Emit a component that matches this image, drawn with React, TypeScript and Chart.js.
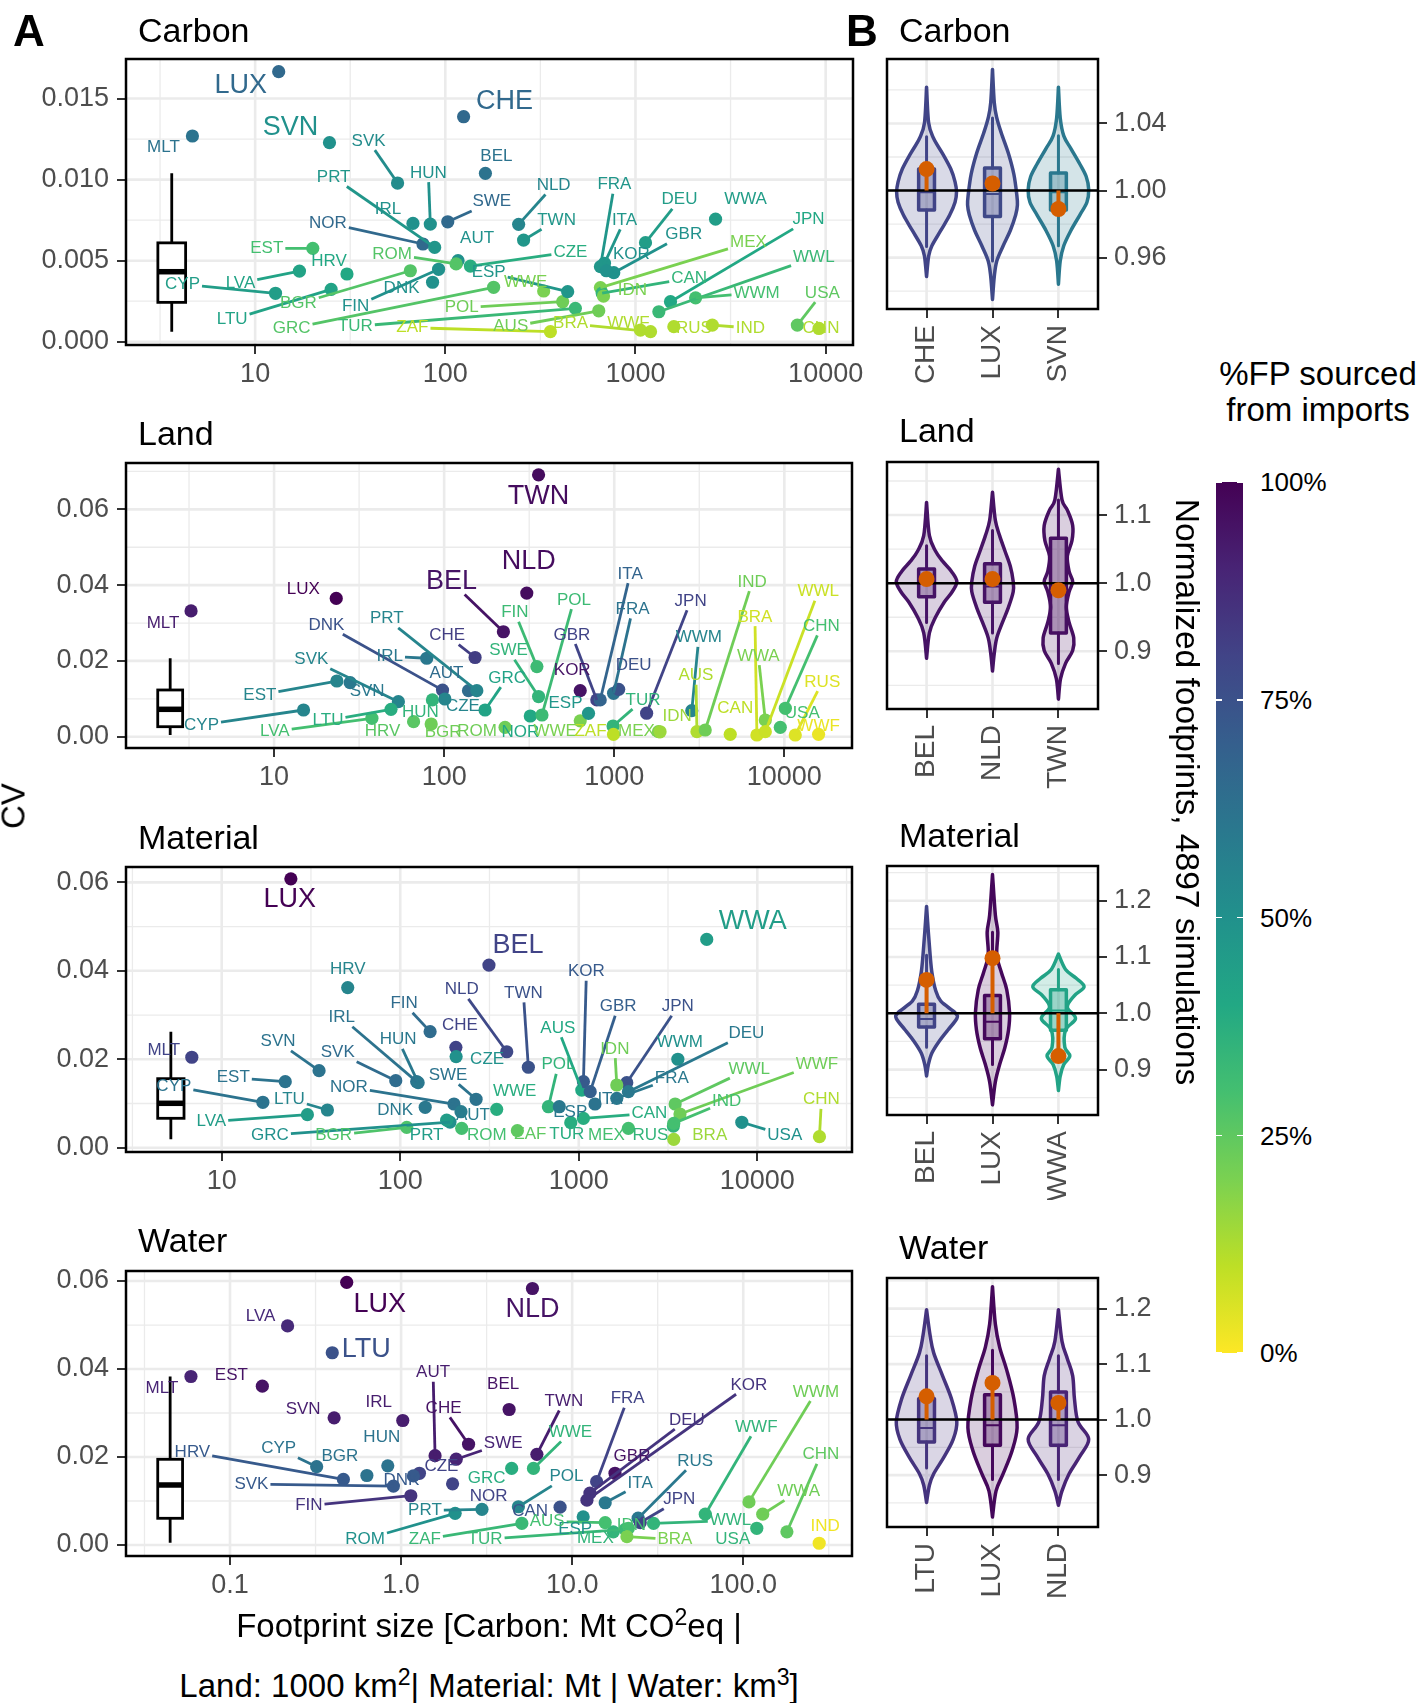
import React, { useEffect, useRef } from 'react';
import { Chart, registerables } from 'chart.js';

Chart.register(...registerables);

const FONT = '"Liberation Sans", Arial, Helvetica, sans-serif';
Chart.defaults.font.family = FONT;

// ======================= PANEL A DATA =======================
// ---- Carbon (Mt CO2eq) ----
const carbonNames = ['LUX','MLT','SVN','SVK','HUN','IRL','SWE','NOR','PRT','CHE','BEL','NLD','TWN','AUT','CZE','ROM','BGR','HRV','EST','LVA','CYP','LTU','FIN','DNK','GRC','TUR','ZAF','POL','WWE','ESP','AUS','MEX','BRA','WWF','RUS','IND','USA','CHN','JPN','WWL','WWM','CAN','WWA','DEU','GBR','FRA','ITA','KOR','IDN'];
const carbonFootprint = [13.3,4.68,24.6,56.1,83.4,67.6,103,76.3,87.9,124.8,162.5,243,258,116.7,135.5,114,65.5,30.4,20.1,17.1,12.8,25.1,92.2,85.7,179.5,483,357,414,329,440,641,654,1200,1062,1591,2535,7097,9226,1528,1327,2071,668,2637,1129,769,654,687,703,679];
const carbonCV = [0.01666,0.01269,0.01228,0.00979,0.00726,0.0073,0.0074,0.00603,0.00582,0.01388,0.01039,0.00724,0.00627,0.0050,0.00467,0.0048,0.00438,0.00418,0.00576,0.00436,0.00299,0.00323,0.00447,0.00367,0.00336,0.00206,0.00062,0.00247,0.00313,0.00309,0.00191,0.00334,0.00062,0.00072,0.00093,0.00103,0.00103,0.00082,0.00247,0.00185,0.00271,0.0030,0.00756,0.00611,0.00426,0.00463,0.00484,0.00438,0.00282];
const carbonImportShare = [0.66,0.62,0.50,0.52,0.50,0.50,0.66,0.66,0.48,0.66,0.62,0.55,0.48,0.50,0.38,0.27,0.27,0.40,0.30,0.42,0.45,0.42,0.50,0.50,0.27,0.33,0.10,0.22,0.20,0.48,0.22,0.20,0.12,0.12,0.12,0.12,0.25,0.12,0.40,0.33,0.30,0.35,0.45,0.45,0.50,0.48,0.48,0.50,0.20];
const carbonHighlight = ['LUX','SVN','CHE'];
const carbonLabelDx = [-38,-29,-39,-29,-2,-25,44,-95,-101,41,11,35,33,19,100,-64,-112,-18,-46,-59,-93,-99,-83,-31,-202,-220,-138,-101,-18,-79,-88,148,-80,-12,20,38,25,2,138,155,61,87,30,34,70,14,20,25,29];
const carbonLabelDy = [14,11,-15,-42,-51,-14,-20,-21,-70,-15,-17,-39,-20,-22,-14,-10,33,-13,0,12,-9,30,37,6,41,18,-4,6,-9,-19,16,-45,-8,-7,2,3,-32,0,-82,-54,-5,-15,-20,-43,-38,-82,-43,-16,-6];
const carbonBoxStats = [0.00062, 0.00243, 0.00432, 0.0061, 0.01039];
const carbonBoxSpan = [3.08, 4.31];
const carbonXTicks = [10, 100, 1000, 10000];
const carbonXMinor = [3.162, 31.62, 316.2, 3162];
const carbonYTicks = [0, 0.005, 0.01, 0.015];
const carbonYMinor = [0.0025, 0.0075, 0.0125];

// ---- Land (1000 km2) ----
const landNames = ['MLT','LUX','BEL','NLD','TWN','DNK','CHE','IRL','AUT','PRT','SVK','EST','SVN','HUN','CZE','LTU','LVA','HRV','BGR','CYP','ROM','NOR','SWE','FIN','POL','WWE','GRC','ESP','KOR','GBR','ITA','FRA','DEU','JPN','TUR','MEX','WWM','AUS','IND','BRA','WWA','CAN','WWL','CHN','USA','RUS','WWF','ZAF','IDN'];
const landFootprint = [3.25,23.2,223,306,359,97.8,152,79,139,155.6,53.8,23.4,28,85.3,101,48.7,37.6,66.1,83.9,14.9,228,321,359,351,376,631,174,706,631,790,827,991,1062,1550,984,1820,2857,3063,3428,6900,7730,4809,7730,10140,9470,11600,15900,990,1860];
const landCV = [0.0332,0.0365,0.0277,0.0379,0.0691,0.0123,0.0209,0.0207,0.01214,0.01214,0.00924,0.0147,0.01426,0.0097,0.00995,0.00723,0.00486,0.00396,0.00335,0.00705,0.00248,0.00546,0.0106,0.0185,0.00573,0.0042,0.00705,0.00617,0.01214,0.0097,0.0097,0.01146,0.0125,0.0062,0.00283,0.00132,0.00687,0.00132,0.00177,0.00045,0.0044,0.00063,0.00132,0.0075,0.00248,0.00045,0.00063,0.0006,0.0013];
const landImportShare = [0.92,1.0,0.95,0.97,0.97,0.75,0.82,0.60,0.65,0.55,0.55,0.55,0.60,0.35,0.55,0.38,0.30,0.26,0.22,0.55,0.22,0.40,0.35,0.32,0.32,0.20,0.42,0.48,0.95,0.80,0.68,0.62,0.75,0.80,0.35,0.20,0.55,0.12,0.22,0.07,0.20,0.10,0.08,0.30,0.30,0.05,0.03,0.10,0.15];
const landHighlight = ['TWN','NLD','BEL'];
const landLabelDx = [-28,-33,-52,2,0,-116,-28,-37,-22,-90,-87,-77,17,-12,18,-63,-97,-31,12,-102,-28,-10,-30,-22,32,-25,22,-23,-8,-25,30,19,15,44,30,-22,7,-1,47,-2,-7,5,53,36,22,27,0,-23,17];
const landLabelDy = [12,-9,-50,-32,22,-65,-22,-2,-17,-72,-42,14,9,12,7,11,13,10,8,15,4,16,-46,-54,-115,11,-32,-10,-20,-65,-126,-84,-24,-112,-26,0,-73,-56,-148,-118,-64,-26,-140,-82,-14,-53,-8,-3,-15];
const landBoxStats = [0.00045, 0.00264, 0.00723, 0.01233, 0.0207];
const landBoxSpan = [2.07, 2.90];
const landXTicks = [10, 100, 1000, 10000];
const landXMinor = [3.162, 31.62, 316.2, 3162];
const landYTicks = [0, 0.02, 0.04, 0.06];
const landYMinor = [0.01, 0.03, 0.05, 0.07];

// ---- Material (Mt) ----
const materialNames = ['LUX','HRV','MLT','BEL','WWA','FIN','NLD','CHE','CZE','IRL','HUN','SVN','SVK','SWE','EST','CYP','LTU','LVA','NOR','DNK','AUT','POL','GRC','BGR','PRT','ROM','AUS','KOR','GBR','TWN','JPN','IDN','WWM','DEU','FRA','ITA','ESP','WWE','CAN','ZAF','TUR','MEX','RUS','WWL','WWF','IND','BRA','USA','CHN'];
const materialFootprint = [24.4,50.8,6.8,314,5210,147,395,205,205.6,123.6,126,35.1,94.4,266,22.7,17,39.1,30.2,200,138,219,676,190,108.7,182,221,1040,1062,1159,522,1858,1633,3590,1897,1633,1233,778,347,1062,453,902,1897,3388,3467,3690,3405,3405,8190,22300];
const materialCV = [0.0608,0.0362,0.02045,0.0413,0.0471,0.02624,0.0217,0.0227,0.0206,0.01493,0.0147,0.01742,0.01516,0.01095,0.01493,0.01027,0.00853,0.00747,0.00988,0.00914,0.00814,0.00927,0.0058,0.00461,0.00622,0.00439,0.01303,0.01493,0.01267,0.01819,0.0147,0.01418,0.0200,0.01267,0.01117,0.00988,0.00927,0.00868,0.00665,0.00385,0.00566,0.00439,0.0049,0.00988,0.00762,0.0055,0.0019,0.00575,0.00249];
const materialImportShare = [1.0,0.55,0.80,0.80,0.45,0.65,0.78,0.80,0.50,0.62,0.60,0.62,0.65,0.62,0.62,0.62,0.55,0.45,0.62,0.60,0.58,0.35,0.50,0.28,0.45,0.30,0.40,0.72,0.70,0.75,0.75,0.22,0.50,0.60,0.60,0.62,0.60,0.38,0.38,0.25,0.38,0.30,0.35,0.25,0.22,0.30,0.15,0.50,0.12];
const materialHighlight = ['LUX','BEL','WWA'];
const materialLabelDx = [-1,0,-28,29,46,-26,-45,4,31,-75,-20,-41,-58,-28,-52,-89,-38,-96,-105,-30,12,10,-180,-73,-20,25,-24,3,28,-5,51,-2,2,118,55,15,11,18,66,13,-4,-22,-23,74,137,53,36,43,2];
const materialLabelDy = [21,-18,-7,-20,-18,-28,-62,-22,3,-64,-43,-29,-28,-24,-4,-16,-11,7,-17,3,4,-42,13,8,15,7,-62,-110,-85,-74,-76,-36,-17,-58,-20,-5,6,-18,-5,4,12,7,9,-35,-50,-22,-4,13,-37];
const materialBoxStats = [0.0019, 0.00665, 0.01004, 0.01561, 0.02624];
const materialBoxSpan = [4.38, 6.15];
const materialXTicks = [10, 100, 1000, 10000];
const materialXMinor = [3.162, 31.62, 316.2, 3162, 31623];
const materialYTicks = [0, 0.02, 0.04, 0.06];
const materialYMinor = [0.01, 0.03, 0.05];

// ---- Water (km3) ----
const waterNames = ['LUX','LVA','LTU','MLT','EST','SVN','IRL','AUT','CHE','CZE','HUN','CYP','BGR','HRV','SVK','DNK','NOR','FIN','PRT','ROM','ZAF','TUR','NLD','BEL','SWE','TWN','WWE','GRC','POL','CAN','ESP','MEX','IDN','ITA','GBR','FRA','DEU','KOR','RUS','JPN','BRA','WWF','WWL','WWM','WWA','CHN','IND','USA','AUS'];
const waterFootprint = [0.481,0.217,0.396,0.0591,0.1545,0.406,1.023,1.58,2.48,1.28,0.836,0.321,0.631,0.46,0.902,1.18,2.0,1.14,2.97,2.07,5.08,20.4,5.86,4.28,2.1,6.22,5.94,4.43,4.85,8.5,11.6,17.4,21.3,15.6,17.8,13.9,12.7,12.2,24.3,25,20.9,60,29.9,108,130,180,278,120,15.6];
const waterCV = [0.0597,0.0498,0.0437,0.0383,0.0361,0.0289,0.0283,0.0203,0.0229,0.0163,0.018,0.0178,0.0158,0.0149,0.0134,0.0157,0.0139,0.0112,0.0081,0.0072,0.0049,0.00357,0.0583,0.0308,0.0195,0.0206,0.0174,0.0174,0.0087,0.0086,0.0064,0.0030,0.0038,0.0096,0.0163,0.0144,0.0118,0.0102,0.0061,0.0051,0.0019,0.0070,0.0049,0.0098,0.0070,0.0030,0.0004,0.0038,0.0051];
const waterImportShare = [1.0,0.88,0.75,0.90,0.95,0.92,0.92,0.92,0.95,0.80,0.62,0.62,0.62,0.72,0.72,0.72,0.80,0.85,0.55,0.50,0.33,0.33,0.95,0.95,0.90,0.92,0.35,0.38,0.55,0.75,0.50,0.35,0.30,0.60,0.95,0.80,0.85,0.85,0.60,0.80,0.20,0.35,0.35,0.22,0.22,0.25,0.02,0.35,0.30];
const waterHighlight = ['LUX','LTU','NLD'];
const waterLabelDx = [33,-27,34,-29,-31,-31,-24,-2,-25,22,-6,-38,-27,-151,-142,-12,36,-102,-57,-90,-97,-140,0,-6,47,27,37,-25,48,-30,-8,-18,3,35,17,31,97,162,57,39,48,51,77,67,36,34,6,-24,-58];
const waterLabelDy = [22,-10,-3,12,-11,-9,-18,-83,-36,-7,-28,-18,-19,-27,-2,4,12,10,1,26,16,10,21,-25,-16,-53,-36,10,-30,4,12,7,-3,-19,-17,-83,-73,-115,-57,-23,3,-87,-3,-110,-23,-77,-17,11,-1];
const waterBoxStats = [0.0005, 0.00607, 0.01364, 0.01948, 0.0383];
const waterBoxSpan = [0.0378, 0.0528];
const waterXTicks = [0.1, 1, 10, 100];
const waterXMinor = [0.03162, 0.3162, 3.162, 31.62, 316.2];
const waterYTicks = [0, 0.02, 0.04, 0.06];
const waterYMinor = [0.01, 0.03, 0.05];

// ======================= PANEL B DATA =======================
const violinCarbonCats = ['CHE','LUX','SVN'];
const violinCarbonShare = [0.80, 0.78, 0.60];
const violinCarbonY = [
  [1.0616,1.0402,1.031,1.022,1.0128,1.0052,0.9991,0.993,0.9854,0.9762,0.9671,0.961,0.9488],
  [1.0722,1.0524,1.0433,1.0341,1.0219,1.0097,0.9976,0.9915,0.9854,0.9762,0.9671,0.958,0.9488,0.9351],
  [1.0616,1.0433,1.0326,1.025,1.0158,1.0082,1.0006,0.993,0.9854,0.9762,0.9671,0.958,0.9442]
];
const violinCarbonWidth = [
  [0,0.032,0.108,0.243,0.368,0.432,0.454,0.432,0.351,0.216,0.081,0.032,0],
  [0,0.027,0.065,0.135,0.243,0.324,0.368,0.378,0.351,0.27,0.162,0.065,0.027,0],
  [0,0.027,0.081,0.189,0.324,0.422,0.459,0.432,0.324,0.189,0.081,0.027,0]
];
const violinCarbonBox = [[0.9666,0.9884,0.999,1.0128,1.032],[0.958,0.9845,0.998,1.0134,1.0433],[0.9671,0.9884,0.999,1.0104,1.0326]];
const violinCarbonObserved = [1.0128, 1.0042, 0.989];

const violinLandCats = ['BEL','NLD','TWN'];
const violinLandShare = [0.95, 0.95, 0.96];
const violinLandY = [
  [1.1185,1.0698,1.0473,1.0323,1.0173,1.0024,0.9874,0.9724,0.9499,0.9272,0.8898],
  [1.1336,1.0923,1.0698,1.0473,1.0248,1.0024,0.9874,0.9649,0.9424,0.9197,0.8972,0.8711],
  [1.1673,1.1223,1.1073,1.0848,1.0623,1.0398,1.0173,1.0024,0.9874,0.9649,0.9424,0.9197,0.9011,0.8823,0.8598,0.8298]
];
const violinLandWidth = [
  [0,0.043,0.135,0.243,0.378,0.459,0.389,0.27,0.135,0.043,0],
  [0,0.043,0.108,0.189,0.27,0.314,0.314,0.243,0.151,0.065,0.027,0],
  [0,0.054,0.135,0.216,0.205,0.135,0.162,0.216,0.162,0.119,0.162,0.232,0.216,0.108,0.032,0]
];
const violinLandBox = [[0.9424,0.980,1.0,1.021,1.0548],[0.927,0.972,0.995,1.0285,1.0773],[0.882,0.927,0.995,1.066,1.122]];
const violinLandObserved = [1.006, 1.006, 0.9896];

const violinMaterialCats = ['BEL','LUX','WWA'];
const violinMaterialShare = [0.80, 0.98, 0.42];
const violinMaterialY = [
  [1.190,1.1442,1.1034,1.0726,1.0419,1.0215,1.0011,0.9908,0.9703,0.9499,0.9293,0.9089,0.8885],
  [1.2465,1.175,1.1442,1.1034,1.0726,1.0419,1.0011,0.9703,0.9396,0.9089,0.8782,0.8373],
  [1.1053,1.0778,1.0623,1.0471,1.0316,1.0112,0.9908,0.9703,0.9396,0.9243,0.9089,0.8885,0.8629]
];
const violinMaterialWidth = [
  [0,0.027,0.054,0.081,0.135,0.216,0.432,0.459,0.324,0.189,0.081,0.027,0],
  [0,0.043,0.081,0.065,0.135,0.216,0.259,0.243,0.189,0.108,0.043,0],
  [0,0.108,0.27,0.389,0.243,0.135,0.259,0.108,0.097,0.173,0.081,0.027,0]
];
const violinMaterialBox = [[0.9396,0.9755,0.99,1.016,1.103],[0.909,0.955,0.985,1.0316,1.144],[0.924,0.970,1.005,1.042,1.078]];
const violinMaterialObserved = [1.0593, 1.098, 0.924];

const violinWaterCats = ['LTU','LUX','NLD'];
const violinWaterShare = [0.85, 0.98, 0.90];
const violinWaterY = [
  [1.198,1.1514,1.1202,1.0788,1.0373,0.9959,0.9647,0.9336,0.9024,0.8817,0.8506],
  [1.2394,1.1721,1.1307,1.0891,1.0373,0.9854,0.944,0.9026,0.8715,0.8247],
  [1.198,1.1409,1.1098,1.0788,1.0373,0.9959,0.9647,0.9336,0.9024,0.8715,0.8456]
];
const violinWaterWidth = [
  [0,0.054,0.108,0.243,0.378,0.459,0.405,0.27,0.108,0.043,0],
  [0,0.043,0.108,0.216,0.324,0.373,0.297,0.162,0.054,0],
  [0,0.054,0.135,0.216,0.243,0.297,0.459,0.324,0.162,0.054,0]
];
const violinWaterBox = [[0.913,0.9595,0.985,1.0374,1.115],[0.892,0.954,0.99,1.0446,1.125],[0.892,0.954,0.99,1.0497,1.115]];
const violinWaterObserved = [1.042, 1.066, 1.030];

const legendBreaks = ['100%', '75%', '50%', '25%', '0%'];

// ======================= HELPERS =======================
const VIRIDIS = ['#440154','#482475','#414487','#355F8D','#2A788E','#21918C','#22A884','#44BF70','#7AD151','#BDDF26','#FDE725'];
function hexToRgb(h: string): number[] {
  const n = parseInt(h.slice(1), 16);
  return [(n >> 16) & 255, (n >> 8) & 255, n & 255];
}
const VIRIDIS_RGB = VIRIDIS.map(hexToRgb);
function viridis(s: number): number[] {
  const v = Math.min(1, Math.max(0, s)) * (VIRIDIS_RGB.length - 1);
  const i = Math.min(VIRIDIS_RGB.length - 2, Math.floor(v));
  const f = v - i;
  const a = VIRIDIS_RGB[i], b = VIRIDIS_RGB[i + 1];
  return [0, 1, 2].map((k) => Math.round(a[k] + (b[k] - a[k]) * f));
}
const shareRgb = (share: number) => viridis(1 - share);
const rgba = (c: number[], a = 1) => `rgba(${c[0]},${c[1]},${c[2]},${a})`;

function drawGrid(ctx: any, ca: any, xs: any, ys: any, xVals: number[], yVals: number[], lw: number) {
  ctx.strokeStyle = '#EBEBEB';
  ctx.lineWidth = lw;
  ctx.beginPath();
  xVals.forEach((v) => {
    const px = xs.getPixelForValue(v);
    if (px >= ca.left - 1 && px <= ca.right + 1) { ctx.moveTo(px, ca.top); ctx.lineTo(px, ca.bottom); }
  });
  yVals.forEach((v) => {
    const py = ys.getPixelForValue(v);
    if (py >= ca.top - 1 && py <= ca.bottom + 1) { ctx.moveTo(ca.left, py); ctx.lineTo(ca.right, py); }
  });
  ctx.stroke();
}

function curveThrough(ctx: any, pts: number[][], move: boolean) {
  if (move) ctx.moveTo(pts[0][0], pts[0][1]); else ctx.lineTo(pts[0][0], pts[0][1]);
  for (let i = 0; i < pts.length - 1; i++) {
    const p0 = pts[i - 1] || pts[i];
    const p1 = pts[i];
    const p2 = pts[i + 1];
    const p3 = pts[i + 2] || p2;
    ctx.bezierCurveTo(
      p1[0] + (p2[0] - p0[0]) / 6, p1[1] + (p2[1] - p0[1]) / 6,
      p2[0] - (p3[0] - p1[0]) / 6, p2[1] - (p3[1] - p1[1]) / 6,
      p2[0], p2[1]);
  }
}

const TICK_FONT = { family: FONT, size: 27 };
const TICK_COLOR = '#4D4D4D';
const AXIS_GRID = { drawOnChartArea: false, drawTicks: true, tickLength: 9, color: '#333333', lineWidth: 2 };

// ======================= PANEL A CHART =======================
function scatterConfig(p: any): any {
  const colors = p.share.map((s: number) => rgba(shareRgb(s)));
  const plugin = {
    id: 'panelA',
    beforeDatasetsDraw(chart: any) {
      const { ctx, chartArea: ca, scales } = chart;
      const xs = scales.x, ys = scales.y;
      ctx.save();
      ctx.fillStyle = '#ffffff';
      ctx.fillRect(ca.left, ca.top, ca.right - ca.left, ca.bottom - ca.top);
      ctx.beginPath();
      ctx.rect(ca.left, ca.top, ca.right - ca.left, ca.bottom - ca.top);
      ctx.clip();
      drawGrid(ctx, ca, xs, ys, p.xMinor, p.yMinor, 1.3);
      drawGrid(ctx, ca, xs, ys, p.xTicks, p.yTicks, 2.6);
      // boxplot summarising the CV distribution
      const [lo, q1, med, q3, hi] = p.box;
      const xl = xs.getPixelForValue(p.boxSpan[0]);
      const xr = xs.getPixelForValue(p.boxSpan[1]);
      const xc = (xl + xr) / 2;
      const Y = (v: number) => ys.getPixelForValue(v);
      ctx.strokeStyle = '#000';
      ctx.lineWidth = 2.8;
      ctx.beginPath();
      ctx.moveTo(xc, Y(lo)); ctx.lineTo(xc, Y(q1));
      ctx.moveTo(xc, Y(q3)); ctx.lineTo(xc, Y(hi));
      ctx.stroke();
      ctx.fillStyle = '#fff';
      ctx.fillRect(xl, Y(q3), xr - xl, Y(q1) - Y(q3));
      ctx.strokeRect(xl, Y(q3), xr - xl, Y(q1) - Y(q3));
      ctx.lineWidth = 5.5;
      ctx.beginPath();
      ctx.moveTo(xl, Y(med)); ctx.lineTo(xr, Y(med));
      ctx.stroke();
      ctx.restore();
    },
    afterDatasetsDraw(chart: any) {
      const { ctx, scales } = chart;
      const xs = scales.x, ys = scales.y;
      ctx.save();
      const items = p.names.map((name: string, i: number) => {
        const px = xs.getPixelForValue(p.fp[i]);
        const py = ys.getPixelForValue(p.cv[i]);
        const size = p.highlight.includes(name) ? 27 : 17;
        return { name, px, py, lx: px + p.dx[i], ly: py + p.dy[i], size, col: colors[i] };
      });
      // segments
      ctx.lineWidth = 2.8;
      ctx.lineCap = 'butt';
      items.forEach((it: any) => {
        ctx.font = `${it.size}px ${FONT}`;
        const w = ctx.measureText(it.name).width;
        const hw = w / 2 + 2, hh = it.size * 0.36 + 3;
        const ddx = it.px - it.lx, ddy = it.py - it.ly;
        const t = Math.min(ddx !== 0 ? hw / Math.abs(ddx) : Infinity, ddy !== 0 ? hh / Math.abs(ddy) : Infinity);
        if (t >= 1) return;
        const sx = it.lx + ddx * t, sy = it.ly + ddy * t;
        const len = Math.hypot(it.px - sx, it.py - sy);
        if (len - 6 < 14) return;
        ctx.strokeStyle = it.col;
        ctx.beginPath();
        ctx.moveTo(sx, sy);
        ctx.lineTo(it.px, it.py);
        ctx.stroke();
      });
      // text
      ctx.textAlign = 'center';
      ctx.textBaseline = 'middle';
      items.forEach((it: any) => {
        ctx.font = `${it.size}px ${FONT}`;
        ctx.fillStyle = it.col;
        ctx.fillText(it.name, it.lx, it.ly);
      });
      ctx.restore();
    },
    afterDraw(chart: any) {
      const { ctx, chartArea: ca } = chart;
      ctx.save();
      ctx.strokeStyle = '#000';
      ctx.lineWidth = 2.5;
      ctx.strokeRect(ca.left, ca.top, ca.right - ca.left, ca.bottom - ca.top);
      ctx.restore();
    }
  };
  return {
    type: 'scatter',
    data: {
      datasets: [{
        data: p.fp.map((v: number, i: number) => ({ x: v, y: p.cv[i] })),
        backgroundColor: colors,
        borderWidth: 0,
        pointRadius: 6.6,
        pointHoverRadius: 6.6
      }]
    },
    options: {
      responsive: false,
      animation: false,
      events: [],
      layout: { padding: { left: 0, right: p.padRight, top: 20, bottom: 0 } },
      plugins: { legend: { display: false }, tooltip: { enabled: false } },
      scales: {
        x: {
          type: 'logarithmic', min: p.xMin, max: p.xMax,
          afterBuildTicks: (s: any) => { s.ticks = p.xTicks.map((v: number) => ({ value: v })); },
          afterFit: (s: any) => { s.height = 45; s.paddingLeft = 0; s.paddingRight = 0; },
          ticks: { callback: (v: any) => p.xFmt(Number(v)), font: TICK_FONT, color: TICK_COLOR, padding: 4, autoSkip: false, maxRotation: 0, minRotation: 0 },
          grid: AXIS_GRID,
          border: { display: false }
        },
        y: {
          type: 'linear', min: p.yMin, max: p.yMax,
          afterBuildTicks: (s: any) => { s.ticks = p.yTicks.map((v: number) => ({ value: v })); },
          afterFit: (s: any) => { s.width = 126; s.paddingTop = 0; s.paddingBottom = 0; },
          ticks: { callback: (v: any) => p.yFmt(Number(v)), font: TICK_FONT, color: TICK_COLOR, padding: 8, autoSkip: false },
          grid: AXIS_GRID,
          border: { display: false }
        }
      }
    },
    plugins: [plugin]
  };
}

// ======================= PANEL B CHART =======================
function violinConfig(p: any): any {
  const plugin = {
    id: 'panelB',
    beforeDatasetsDraw(chart: any) {
      const { ctx, chartArea: ca, scales } = chart;
      const xs = scales.x, ys = scales.y;
      const X = (v: number) => xs.getPixelForValue(v);
      const Y = (v: number) => ys.getPixelForValue(v);
      ctx.save();
      ctx.fillStyle = '#ffffff';
      ctx.fillRect(ca.left, ca.top, ca.right - ca.left, ca.bottom - ca.top);
      ctx.beginPath();
      ctx.rect(ca.left, ca.top, ca.right - ca.left, ca.bottom - ca.top);
      ctx.clip();
      drawGrid(ctx, ca, xs, ys, [], p.yMinor, 1.3);
      drawGrid(ctx, ca, xs, ys, [1, 2, 3], p.yTicks, 2.6);
      ctx.lineJoin = 'round';
      ctx.lineCap = 'round';
      p.cats.forEach((_: string, i: number) => {
        const c = i + 1;
        const col = shareRgb(p.share[i]);
        const ysv = p.y[i], ws = p.w[i];
        const right = ysv.map((v: number, k: number) => [X(c + ws[k]), Y(v)]);
        const left = ysv.map((v: number, k: number) => [X(c - ws[k]), Y(v)]).reverse();
        ctx.beginPath();
        curveThrough(ctx, right, true);
        curveThrough(ctx, left, false);
        ctx.closePath();
        ctx.fillStyle = rgba(col, 0.2);
        ctx.fill();
        ctx.strokeStyle = rgba(col);
        ctx.lineWidth = 3.5;
        ctx.stroke();
        // box & whiskers
        const [lo, q1, med, q3, hi] = p.box[i];
        ctx.lineWidth = 3;
        ctx.beginPath();
        ctx.moveTo(X(c), Y(lo)); ctx.lineTo(X(c), Y(q1));
        ctx.moveTo(X(c), Y(q3)); ctx.lineTo(X(c), Y(hi));
        ctx.stroke();
        const bl = X(c - 0.12), br = X(c + 0.12);
        ctx.fillStyle = rgba(col, 0.32);
        ctx.fillRect(bl, Y(q3), br - bl, Y(q1) - Y(q3));
        ctx.lineWidth = 3.5;
        ctx.strokeRect(bl, Y(q3), br - bl, Y(q1) - Y(q3));
        ctx.lineWidth = 2;
        ctx.beginPath();
        ctx.moveTo(bl, Y(med)); ctx.lineTo(br, Y(med));
        ctx.stroke();
      });
      // reference line at 1
      ctx.strokeStyle = '#000';
      ctx.lineWidth = 2.5;
      ctx.lineCap = 'butt';
      ctx.beginPath();
      ctx.moveTo(ca.left, Y(1)); ctx.lineTo(ca.right, Y(1));
      ctx.stroke();
      // observed deviation segments
      ctx.strokeStyle = '#D55E00';
      ctx.lineWidth = 4;
      ctx.beginPath();
      p.obs.forEach((v: number, i: number) => {
        ctx.moveTo(X(i + 1), Y(1)); ctx.lineTo(X(i + 1), Y(v));
      });
      ctx.stroke();
      ctx.restore();
    },
    afterDraw(chart: any) {
      const { ctx, chartArea: ca } = chart;
      ctx.save();
      ctx.strokeStyle = '#000';
      ctx.lineWidth = 2.5;
      ctx.strokeRect(ca.left, ca.top, ca.right - ca.left, ca.bottom - ca.top);
      ctx.restore();
    }
  };
  return {
    type: 'scatter',
    data: {
      datasets: [{
        data: p.obs.map((v: number, i: number) => ({ x: i + 1, y: v })),
        backgroundColor: '#D55E00',
        borderWidth: 0,
        pointRadius: 8,
        pointHoverRadius: 8
      }]
    },
    options: {
      responsive: false,
      animation: false,
      events: [],
      layout: { padding: { left: 27, right: 0, top: 20, bottom: 0 } },
      plugins: { legend: { display: false }, tooltip: { enabled: false } },
      scales: {
        x: {
          type: 'linear', min: 0.4, max: 3.6,
          afterBuildTicks: (s: any) => { s.ticks = [1, 2, 3].map((v) => ({ value: v })); },
          afterFit: (s: any) => { s.height = 85; s.paddingLeft = 0; s.paddingRight = 0; },
          ticks: { callback: (v: any) => p.cats[Math.round(Number(v)) - 1], font: { family: FONT, size: 28 }, color: TICK_COLOR, padding: 7, autoSkip: false, maxRotation: 90, minRotation: 90 },
          grid: AXIS_GRID,
          border: { display: false }
        },
        y: {
          type: 'linear', position: 'right', min: p.yMin, max: p.yMax,
          afterBuildTicks: (s: any) => { s.ticks = p.yTicks.map((v: number) => ({ value: v })); },
          afterFit: (s: any) => { s.width = 90; s.paddingTop = 0; s.paddingBottom = 0; },
          ticks: { callback: (v: any) => p.yFmt(Number(v)), font: TICK_FONT, color: TICK_COLOR, padding: 7, autoSkip: false },
          grid: AXIS_GRID,
          border: { display: false }
        }
      }
    },
    plugins: [plugin]
  };
}

// ======================= PANEL SETUPS =======================
const fmtInt = (v: number) => String(v);
const panelsA = [
  { key: 'carbon', names: carbonNames, fp: carbonFootprint, cv: carbonCV, share: carbonImportShare, highlight: carbonHighlight,
    dx: carbonLabelDx, dy: carbonLabelDy, box: carbonBoxStats, boxSpan: carbonBoxSpan,
    xMin: 2.094, xMax: 13925, yMin: -0.0002, yMax: 0.01744, xTicks: carbonXTicks, xMinor: carbonXMinor, yTicks: carbonYTicks, yMinor: carbonYMinor,
    xFmt: fmtInt, yFmt: (v: number) => v.toFixed(3), left: 0, top: 39, width: 880, height: 351, padRight: 27 },
  { key: 'land', names: landNames, fp: landFootprint, cv: landCV, share: landImportShare, highlight: landHighlight,
    dx: landLabelDx, dy: landLabelDy, box: landBoxStats, boxSpan: landBoxSpan,
    xMin: 1.347, xMax: 25000, yMin: -0.00298, yMax: 0.07223, xTicks: landXTicks, xMinor: landXMinor, yTicks: landYTicks, yMinor: landYMinor,
    xFmt: fmtInt, yFmt: (v: number) => v.toFixed(2), left: 0, top: 443, width: 880, height: 350, padRight: 28 },
  { key: 'material', names: materialNames, fp: materialFootprint, cv: materialCV, share: materialImportShare, highlight: materialHighlight,
    dx: materialLabelDx, dy: materialLabelDy, box: materialBoxStats, boxSpan: materialBoxSpan,
    xMin: 2.91, xMax: 33930, yMin: -0.00097, yMax: 0.06347, xTicks: materialXTicks, xMinor: materialXMinor, yTicks: materialYTicks, yMinor: materialYMinor,
    xFmt: fmtInt, yFmt: (v: number) => v.toFixed(2), left: 0, top: 847, width: 880, height: 350, padRight: 28 },
  { key: 'water', names: waterNames, fp: waterFootprint, cv: waterCV, share: waterImportShare, highlight: waterHighlight,
    dx: waterLabelDx, dy: waterLabelDy, box: waterBoxStats, boxSpan: waterBoxSpan,
    xMin: 0.02466, xMax: 432.3, yMin: -0.0025, yMax: 0.06228, xTicks: waterXTicks, xMinor: waterXMinor, yTicks: waterYTicks, yMinor: waterYMinor,
    xFmt: (v: number) => v.toFixed(1), yFmt: (v: number) => v.toFixed(2), left: 0, top: 1251, width: 880, height: 350, padRight: 28 }
];

const panelsB = [
  { key: 'vcarbon', cats: violinCarbonCats, share: violinCarbonShare, y: violinCarbonY, w: violinCarbonWidth, box: violinCarbonBox, obs: violinCarbonObserved,
    yMin: 0.9294, yMax: 1.0784, yTicks: [0.96, 1.0, 1.04], yMinor: [0.94, 0.98, 1.02, 1.06], yFmt: (v: number) => v.toFixed(2),
    left: 860, top: 39, width: 328, height: 355 },
  { key: 'vland', cats: violinLandCats, share: violinLandShare, y: violinLandY, w: violinLandWidth, box: violinLandBox, obs: violinLandObserved,
    yMin: 0.8153, yMax: 1.1779, yTicks: [0.9, 1.0, 1.1], yMinor: [0.85, 0.95, 1.05, 1.15], yFmt: (v: number) => v.toFixed(1),
    left: 860, top: 442, width: 328, height: 352 },
  { key: 'vmaterial', cats: violinMaterialCats, share: violinMaterialShare, y: violinMaterialY, w: violinMaterialWidth, box: violinMaterialBox, obs: violinMaterialObserved,
    yMin: 0.8193, yMax: 1.2618, yTicks: [0.9, 1.0, 1.1, 1.2], yMinor: [0.85, 0.95, 1.05, 1.15, 1.25], yFmt: (v: number) => v.toFixed(1),
    left: 860, top: 846, width: 328, height: 354 },
  { key: 'vwater', cats: violinWaterCats, share: violinWaterShare, y: violinWaterY, w: violinWaterWidth, box: violinWaterBox, obs: violinWaterObserved,
    yMin: 0.8065, yMax: 1.2551, yTicks: [0.9, 1.0, 1.1, 1.2], yMinor: [0.85, 0.95, 1.05, 1.15, 1.25], yFmt: (v: number) => v.toFixed(1),
    left: 860, top: 1258, width: 328, height: 354 }
];

// ======================= COMPONENTS =======================
function ChartCanvas({ p, build }: any) {
  const ref = useRef<HTMLCanvasElement | null>(null);
  useEffect(() => {
    if (!ref.current) return;
    const chart = new Chart(ref.current, build(p));
    return () => chart.destroy();
  }, [p, build]);
  return (
    <canvas ref={ref} width={p.width} height={p.height}
      style={{ position: 'absolute', left: p.left, top: p.top, width: p.width, height: p.height }} />
  );
}

function Txt({ x, y, size, bold, children, style }: any) {
  return (
    <div style={{ position: 'absolute', left: x, top: y, fontSize: size, lineHeight: `${size}px`, fontWeight: bold ? 700 : 400, whiteSpace: 'nowrap', color: '#000', ...(style || {}) }}>
      {children}
    </div>
  );
}

const supStyle: any = { fontSize: '0.7em', verticalAlign: 'super', lineHeight: 0 };

export default function App() {
  const barTop = 482, barBottom = 1353;
  const step = (barBottom - barTop) / (legendBreaks.length - 1);
  return (
    <div style={{ position: 'absolute', left: 0, top: 0, width: 1419, height: 1703, background: '#fff', fontFamily: FONT, overflow: 'hidden' }}>
      {panelsA.map((p) => <ChartCanvas key={p.key} p={p} build={scatterConfig} />)}
      {panelsB.map((p) => <ChartCanvas key={p.key} p={p} build={violinConfig} />)}

      <Txt x={13} y={9} size={44} bold>A</Txt>
      <Txt x={846} y={9} size={44} bold>B</Txt>

      <Txt x={138} y={13} size={34}>Carbon</Txt>
      <Txt x={138} y={416} size={34}>Land</Txt>
      <Txt x={138} y={820} size={34}>Material</Txt>
      <Txt x={138} y={1223} size={34}>Water</Txt>

      <Txt x={899} y={13} size={34}>Carbon</Txt>
      <Txt x={899} y={413} size={34}>Land</Txt>
      <Txt x={899} y={818} size={34}>Material</Txt>
      <Txt x={899} y={1230} size={34}>Water</Txt>

      <div style={{ position: 'absolute', left: 13, top: 806, transform: 'translate(-50%, -50%) rotate(-90deg)', fontSize: 33, lineHeight: '33px', whiteSpace: 'nowrap' }}>CV</div>

      <div style={{ position: 'absolute', left: 0, width: 978, top: 1609, textAlign: 'center', fontSize: 33, lineHeight: '33px', whiteSpace: 'nowrap' }}>
        Footprint size [Carbon: Mt CO<span style={supStyle}>2</span>eq |
      </div>
      <div style={{ position: 'absolute', left: 0, width: 978, top: 1669, textAlign: 'center', fontSize: 33, lineHeight: '33px', whiteSpace: 'nowrap' }}>
        Land: 1000 km<span style={supStyle}>2</span>| Material: Mt | Water: km<span style={supStyle}>3</span>]
      </div>

      <div style={{ position: 'absolute', left: 1187, top: 792, transform: 'translate(-50%, -50%) rotate(90deg)', fontSize: 33.5, lineHeight: '34px', whiteSpace: 'nowrap' }}>
        Normalized footprints, 4897 simulations
      </div>

      <div style={{ position: 'absolute', left: 1208, width: 220, top: 356, textAlign: 'center', fontSize: 33, lineHeight: '36px', whiteSpace: 'nowrap' }}>
        %FP sourced<br />from imports
      </div>

      <div style={{ position: 'absolute', left: 1216, top: barTop, width: 27, height: barBottom - barTop, background: `linear-gradient(to bottom, ${VIRIDIS.join(', ')})` }} />
      {legendBreaks.map((lab, k) => {
        const yy = barTop + k * step;
        return (
          <React.Fragment key={lab}>
            <div style={{ position: 'absolute', left: 1216, top: yy - 0.75, width: 6, height: 1.5, background: '#fff' }} />
            <div style={{ position: 'absolute', left: 1237, top: yy - 0.75, width: 6, height: 1.5, background: '#fff' }} />
            <Txt x={1260} y={yy - 12.7} size={26}>{lab}</Txt>
          </React.Fragment>
        );
      })}
    </div>
  );
}
